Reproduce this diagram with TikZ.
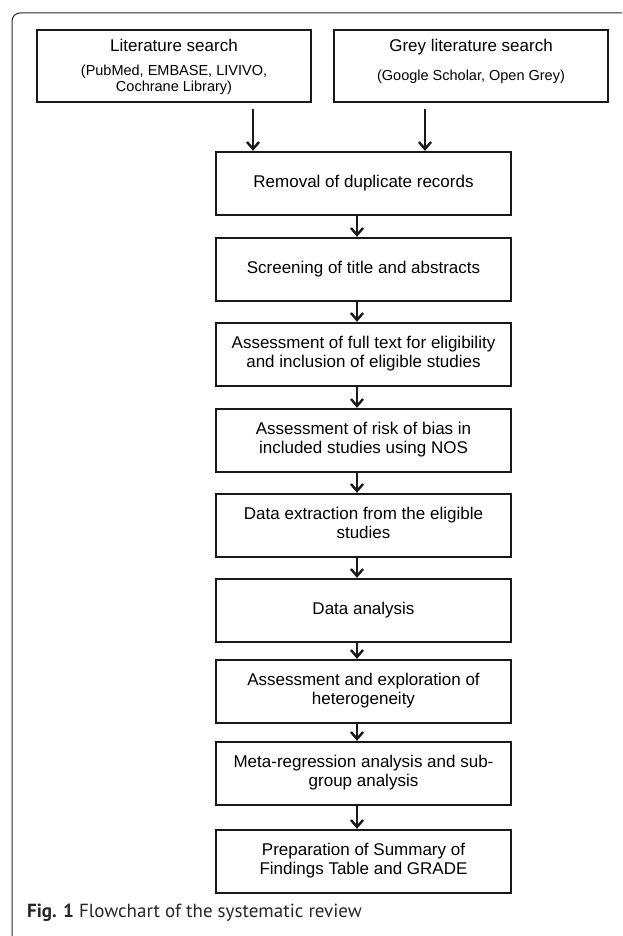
\documentclass[tikz,border=0pt]{standalone}
\usepackage{fontspec}
\setmainfont{Liberation Sans}
\newfontfamily\capfont{PT Sans}
\usetikzlibrary{arrows.meta,calc}
\newcommand\bt[2]{\raisebox{#1}{\begin{tabular}{@{}c@{}}#2\end{tabular}}}
\begin{document}
\begin{tikzpicture}[x=1pt,y=-1pt,
  mainbox/.style={draw=black!90, line width=2.3pt, minimum width=295pt, minimum height=63pt, inner sep=0pt, font=\fontsize{17}{19}\selectfont},
  topbox/.style={draw=black!90, line width=2.3pt, minimum width=274pt, minimum height=72pt, inner sep=0pt},
  ttl/.style={font=\fontsize{17}{19}\selectfont, inner sep=0pt},
  subt/.style={font=\fontsize{14.5}{16.5}\selectfont, inner sep=0pt},
  flow/.style={line width=2.4pt, draw=black!90, -{Straight Barb[length=7pt,width=12pt]}}
]
\useasboundingbox (0,0) rectangle (622,936);
\begin{scope}
\clip (0,0) rectangle (622,936);
\draw[line width=1pt, black!85, rounded corners=8pt] (12,13) rectangle (650,943);
\end{scope}

% top boxes
\node[topbox] (lit) at (174,66) {};
\node[topbox] (grey) at (471,66) {};
\node[ttl] (litT) at (174,45) {Literature search};
\node[subt] (litS) at (174,80) {\begin{tabular}{@{}c@{}}(PubMed, EMBASE, LIVIVO,\\Cochrane Library)\end{tabular}};
\node[ttl] (greyT) at (471,47) {Grey literature search};
\node[subt] (greyS) at (471,77) {(Google Scholar, Open Grey)};

% main column
\node[mainbox] (b1) at (363.5,183.5) {\bt{3pt}{Removal of duplicate records}};
\node[mainbox] (b2) at (363.5,269.5) {\bt{3pt}{Screening of title and abstracts}};
\node[mainbox] (b3) at (363.5,354.5) {\bt{7pt}{Assessment of full text for eligibility\\and inclusion of eligible studies}};
\node[mainbox] (b4) at (363.5,440.5) {\bt{7pt}{Assessment of risk of bias in\\included studies using NOS}};
\node[mainbox] (b5) at (363.5,525.5) {\bt{7pt}{Data extraction from the eligible\\studies}};
\node[mainbox] (b6) at (363.5,610.5) {\bt{3pt}{Data analysis}};
\node[mainbox] (b7) at (363.5,691.5) {\bt{7pt}{Assessment and exploration of\\heterogeneity}};
\node[mainbox] (b8) at (363.5,773.5) {\bt{7pt}{Meta-regression analysis and sub-\\group analysis}};
\node[mainbox] (b9) at (363.5,861.5) {\bt{7pt}{Preparation of Summary of\\Findings Table and GRADE}};

% arrows from top boxes
\coordinate (s1) at (253,109);
\coordinate (s2) at (425,109);
\draw[flow] (s1) -- (s1 |- b1.north);
\draw[flow] (s2) -- (s2 |- b1.north);

\coordinate (ax) at (357,0);
\foreach \a/\b in {b1/b2,b2/b3,b3/b4,b4/b5,b5/b6,b6/b7,b7/b8,b8/b9}{
  \draw[flow] (\a.south -| ax) -- (\b.north -| ax);
}

% caption
\node[anchor=west, inner sep=0pt, font=\capfont\fontsize{19}{22}\selectfont, text=black!85] (cap) at (27,913) {\textbf{Fig. 1} Flowchart of the systematic review};
\end{tikzpicture}
\end{document}
